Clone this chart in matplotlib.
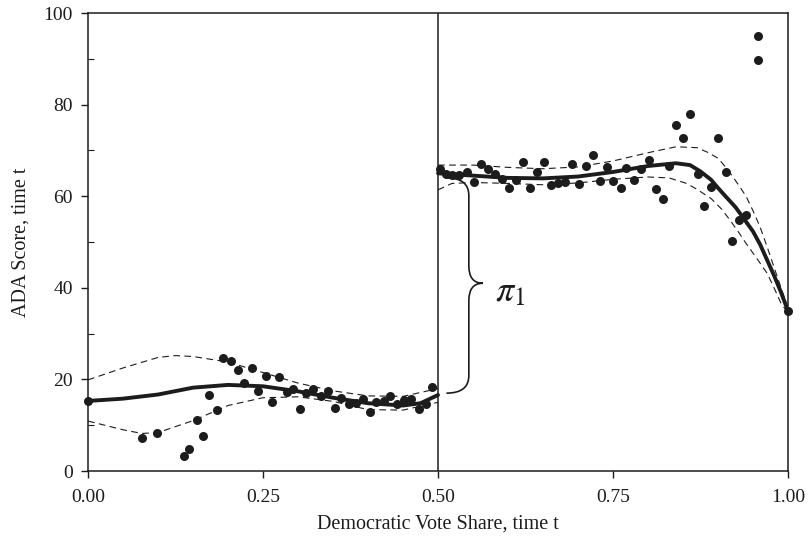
import numpy as np
import matplotlib
matplotlib.use("Agg")
import matplotlib.pyplot as plt
from matplotlib.path import Path
from matplotlib.patches import PathPatch
from matplotlib.ticker import MultipleLocator

plt.rcParams['font.family'] = ['Liberation Serif', 'DejaVu Serif']
plt.rcParams['mathtext.fontset'] = 'stix'

# scatter: cell means, left and right of the cutoff
x_left = [0.00, 0.077, 0.099, 0.137, 0.144, 0.155, 0.164, 0.173, 0.184, 0.193,
          0.204, 0.214, 0.223, 0.234, 0.243, 0.254, 0.263, 0.273, 0.284, 0.293,
          0.303, 0.312, 0.322, 0.333, 0.343, 0.353, 0.362, 0.373, 0.383, 0.393,
          0.403, 0.412, 0.423, 0.432, 0.442, 0.451, 0.462, 0.473, 0.483, 0.492]
y_left = [15.3, 7.2, 8.4, 3.3, 4.7, 11.2, 7.6, 16.7, 13.4, 24.6,
          24.0, 22.1, 19.3, 22.6, 17.5, 20.8, 15.0, 20.6, 17.3, 18.0,
          13.5, 17.0, 17.8, 16.4, 17.5, 13.7, 15.9, 14.6, 14.8, 15.7,
          12.9, 15.1, 15.3, 16.4, 14.6, 15.5, 15.7, 13.5, 14.6, 18.4]

x_right = [0.503, 0.511, 0.520, 0.530, 0.542, 0.552, 0.562, 0.572, 0.581, 0.591,
           0.602, 0.611, 0.622, 0.631, 0.642, 0.651, 0.661, 0.672, 0.681, 0.691,
           0.701, 0.711, 0.721, 0.731, 0.741, 0.750, 0.761, 0.769, 0.780, 0.790,
           0.801, 0.811, 0.821, 0.830, 0.840, 0.850, 0.860, 0.871, 0.880, 0.890,
           0.900, 0.911, 0.920, 0.930, 0.940, 0.957, 0.957, 1.000]
y_right = [65.9, 64.8, 64.6, 64.6, 65.3, 63.2, 67.0, 65.9, 64.8, 63.7,
           61.7, 63.5, 67.5, 61.9, 65.3, 67.5, 62.4, 62.8, 63.0, 67.0,
           62.6, 66.6, 69.0, 63.3, 66.4, 63.3, 61.9, 66.1, 63.5, 65.9,
           67.9, 61.5, 59.3, 66.6, 75.5, 72.7, 78.0, 64.8, 57.9, 62.1,
           72.7, 65.2, 50.2, 54.7, 55.8, 89.7, 95.0, 34.9]

# fitted curve and confidence band
fit_left_x = [0.0, 0.05, 0.1, 0.15, 0.2, 0.25, 0.3, 0.35, 0.4, 0.45, 0.475, 0.5]
fit_left = [15.3, 15.8, 16.7, 18.2, 18.8, 18.5, 17.4, 16.0, 14.8, 14.3, 14.8, 16.6]
hi_left_x = [0.0, 0.05, 0.1, 0.125, 0.15, 0.2, 0.25, 0.3, 0.35, 0.4, 0.45, 0.5]
hi_left = [19.9, 22.5, 24.8, 25.2, 25.0, 23.8, 21.5, 19.2, 17.5, 16.4, 16.3, 18.0]
lo_left_x = [0.0, 0.05, 0.077, 0.1, 0.15, 0.2, 0.25, 0.3, 0.35, 0.4, 0.45, 0.5]
lo_left = [10.9, 9.0, 8.2, 8.4, 11.0, 14.3, 16.0, 16.2, 15.2, 13.4, 13.3, 15.0]

fit_right_x = [0.5, 0.55, 0.6, 0.65, 0.7, 0.75, 0.8, 0.84, 0.86, 0.875, 0.89,
               0.9, 0.91, 0.925, 0.935, 0.95, 0.96, 0.97, 0.98, 0.99, 1.0]
fit_right = [65.0, 64.5, 64.0, 63.9, 64.3, 65.3, 66.6, 67.2, 66.8, 65.4, 63.6,
             61.8, 60.1, 57.6, 55.5, 52.3, 49.5, 46.1, 42.7, 39.0, 34.9]
hi_right_x = [0.5, 0.55, 0.6, 0.65, 0.7, 0.75, 0.8, 0.84, 0.87, 0.885, 0.9,
              0.91, 0.92, 0.93, 0.94, 0.95, 0.96, 0.97, 0.98, 0.99, 1.0]
hi_right = [66.8, 66.8, 66.3, 66.0, 66.4, 67.7, 69.5, 70.8, 70.6, 69.6, 68.3,
            66.5, 64.5, 62.3, 60.0, 56.8, 53.3, 49.0, 44.5, 40.0, 35.5]
lo_right_x = [0.5, 0.52, 0.55, 0.6, 0.65, 0.7, 0.75, 0.8, 0.83, 0.855, 0.87,
              0.89, 0.905, 0.917, 0.93, 0.94, 0.955, 0.97, 0.98, 0.99, 1.0]
lo_right = [61.4, 62.8, 63.0, 62.8, 62.5, 62.9, 63.7, 64.2, 64.0, 62.8, 61.5,
            59.5, 57.2, 54.8, 52.0, 49.7, 46.5, 43.2, 40.0, 36.6, 34.5]

cutoff = 0.5
ink = '#1c1c1c'

fig = plt.figure(figsize=(8.09, 5.48), dpi=100)
ax = fig.add_axes([0.1088, 0.1405, 0.8653, 0.8357])

for xs, ys in [(hi_left_x, hi_left), (lo_left_x, lo_left),
               (hi_right_x, hi_right), (lo_right_x, lo_right)]:
    ax.plot(xs, ys, color=ink, lw=0.8, dashes=(6, 4), zorder=2)
ax.plot(fit_left_x, fit_left, color=ink, lw=2.8, zorder=3, solid_capstyle='round',
        solid_joinstyle='round')
ax.plot(fit_right_x, fit_right, color=ink, lw=2.8, zorder=3, solid_capstyle='round',
        solid_joinstyle='round')

ax.plot(x_left, y_left, 'o', color=ink, ms=6.5, mec='none', zorder=4, clip_on=False)
ax.plot(x_right, y_right, 'o', color=ink, ms=6.5, mec='none', zorder=4, clip_on=False)

ax.axvline(cutoff, color=ink, lw=1.1, zorder=1)

# curly brace marking the jump
bx0, bxm, bxt = 0.512, 0.544, 0.564
by_bot, by_mid, by_top = 17.0, 41.0, 64.0
ry = 3.8
verts = [(bx0, by_bot), (bxm, by_bot), (bxm, by_bot + ry),
         (bxm, by_mid - ry), (bxm, by_mid), (bxt, by_mid),
         (bxm, by_mid), (bxm, by_mid + ry),
         (bxm, by_top - ry), (bxm, by_top), (bx0, by_top)]
codes = [Path.MOVETO, Path.CURVE3, Path.CURVE3,
         Path.LINETO, Path.CURVE3, Path.CURVE3,
         Path.CURVE3, Path.CURVE3,
         Path.LINETO, Path.CURVE3, Path.CURVE3]
ax.add_patch(PathPatch(Path(verts, codes), fill=False, color=ink, lw=1.2, zorder=3))
ax.text(0.582, 39, r'$\pi_1$', fontsize=26, ha='left', va='center', color=ink)

ax.set_xlim(0, 1)
ax.set_ylim(0, 100)
ax.set_xticks([0, 0.25, 0.5, 0.75, 1.0])
ax.set_xticklabels(['0.00', '0.25', '0.50', '0.75', '1.00'])
ax.set_yticks([0, 20, 40, 60, 80, 100])
ax.yaxis.set_minor_locator(MultipleLocator(10))
ax.tick_params(axis='both', which='major', direction='out', length=5, width=1,
               labelsize=14, color=ink, labelcolor=ink)
ax.tick_params(axis='x', pad=8)
ax.tick_params(axis='y', pad=6)
ax.tick_params(axis='y', which='minor', direction='in', length=4, width=0.8, color=ink)
for s in ax.spines.values():
    s.set_linewidth(1.1)
    s.set_color(ink)

ax.set_xlabel('Democratic Vote Share, time t', fontsize=14.5, color=ink, labelpad=6)
ax.set_ylabel('ADA Score, time t', fontsize=14.5, color=ink, labelpad=9)

fig.savefig('out.png', dpi=100)
